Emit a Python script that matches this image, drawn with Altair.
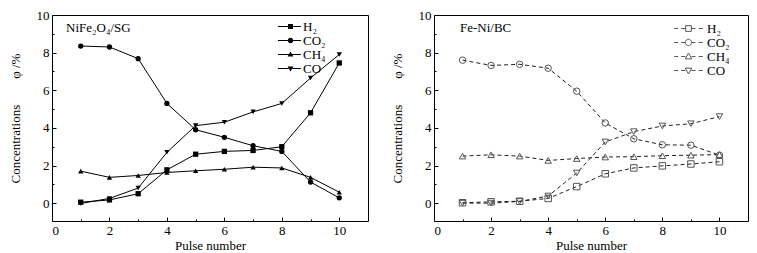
import altair as alt
import pandas as pd

pulse = list(range(1, 11))
series = ["H₂", "CO₂", "CH₄", "CO"]

# NiFe2O4/SG
a_h2 = [0.05, 0.17, 0.5, 1.77, 2.6, 2.75, 2.8, 3.0, 4.8, 7.45]
a_co2 = [8.35, 8.3, 7.68, 5.3, 3.9, 3.5, 3.05, 2.75, 1.12, 0.28]
a_ch4 = [1.7, 1.37, 1.47, 1.63, 1.72, 1.8, 1.91, 1.87, 1.37, 0.58]
a_co = [-0.02, 0.25, 0.8, 2.7, 4.12, 4.3, 4.85, 5.3, 6.65, 7.9]

# Fe-Ni/BC
b_h2 = [0.02, 0.07, 0.1, 0.25, 0.88, 1.56, 1.87, 1.98, 2.08, 2.2]
b_co2 = [7.6, 7.32, 7.38, 7.17, 5.95, 4.26, 3.42, 3.1, 3.08, 2.55]
b_ch4 = [2.5, 2.57, 2.5, 2.27, 2.37, 2.45, 2.47, 2.52, 2.55, 2.58]
b_co = [0.0, 0.0, 0.09, 0.38, 1.6, 3.25, 3.8, 4.1, 4.22, 4.6]

x_major = [0, 2, 4, 6, 8, 10]
x_minor = [1, 3, 5, 7, 9]
y_major = [0, 2, 4, 6, 8, 10]
y_minor = [1, 3, 5, 7, 9]

FONT = "Liberation Serif"
NB = "\u00a0"
YTITLE = "Concentrations" + NB * 8 + "φ /%"


def long_df(vals):
    rows = []
    for s, v in zip(series, vals):
        for p, y in zip(pulse, v):
            rows.append({"series": s, "pulse": p, "value": y})
    return pd.DataFrame(rows)


shapes = ["square", "circle", "triangle-up", "triangle-down"]
marks_geo = [
    "M-0.9,-0.9H0.9V0.9H-0.9Z",
    "M1,0A1,1,0,1,1,-1,0A1,1,0,1,1,1,0Z",
    "M0,-1.1L1.05,0.75H-1.05Z",
    "M0,1.1L1.05,-0.75H-1.05Z",
]
# filled legend: line segments drawn as thin filled bars
solid_seg = "M-4.6,-0.17H-0.5V0.17H-4.6ZM0.5,-0.17H3.8V0.17H0.5Z"
dash_seg = "M-4.5,0H-3.3M-2.3,0H-1M1,0H2.2M3.2,0H4.5"

AX = dict(labelFont=FONT, titleFont=FONT, labelFontSize=13, titleFontSize=13,
          titleFontWeight="normal", labelColor="black", titleColor="black",
          tickColor="black", domain=False, grid=False)


def panel(vals, title, filled, marker_color, line_color, dash, msize,
          leg_x, leg_y, lab_off, sym_size, text_x, width, seg):
    df = long_df(vals)
    xs = alt.Scale(domain=[0, 11], nice=False, zero=False)
    ys = alt.Scale(domain=[-0.95, 10], nice=False, zero=False)
    ax_x = alt.Axis(values=x_major, orient="bottom", tickSize=4, offset=-4,
                    title="Pulse number", labelPadding=3, titlePadding=2, format="d", **AX)
    ax_y = alt.Axis(values=y_major, orient="left", tickSize=4, offset=-4,
                    title=YTITLE, labelPadding=3, titlePadding=14, format="d", **AX)
    ax_xm = alt.Axis(values=x_minor, orient="bottom", tickSize=2, offset=-2,
                     labels=False, title=None, **AX)
    ax_ym = alt.Axis(values=y_minor, orient="left", tickSize=2, offset=-2,
                     labels=False, title=None, **AX)

    line_kw = dict(color=line_color, strokeWidth=1)
    if dash:
        line_kw["strokeDash"] = dash
    lines = alt.Chart(df).mark_line(**line_kw).encode(
        x=alt.X("pulse:Q", scale=xs, axis=ax_x),
        y=alt.Y("value:Q", scale=ys, axis=ax_y),
        detail="series:N",
    )
    pts = alt.Chart(df).mark_point(filled=filled, color=marker_color, size=msize,
                                   strokeWidth=1, opacity=1).encode(
        x=alt.X("pulse:Q", scale=xs, axis=None),
        y=alt.Y("value:Q", scale=ys, axis=None),
        shape=alt.Shape("series:N", scale=alt.Scale(domain=series, range=shapes), legend=None),
    )
    leg = alt.Chart(df).mark_point(filled=filled, color=marker_color, opacity=0).encode(
        x=alt.X("pulse:Q", scale=xs, axis=ax_xm),
        y=alt.Y("value:Q", scale=ys, axis=ax_ym),
        shape=alt.Shape(
            "series:N",
            scale=alt.Scale(domain=series, range=[g + seg for g in marks_geo]),
            legend=alt.Legend(
                orient="none", legendX=leg_x, legendY=leg_y, title=None,
                symbolSize=sym_size, symbolOpacity=1,
                symbolFillColor=marker_color if filled else "transparent",
                symbolStrokeColor=marker_color, symbolStrokeWidth=1,
                labelFont=FONT, labelFontSize=13, labelColor="black",
                labelOffset=lab_off, rowPadding=-1.5, padding=0,
            ),
        ),
    )
    txt = alt.Chart(pd.DataFrame({"t": [title]})).mark_text(
        font=FONT, fontSize=13, align="left", baseline="middle", color="black"
    ).encode(x=alt.value(text_x), y=alt.value(13), text="t:N")

    return alt.layer(lines, pts, leg, txt).resolve_scale(
        shape="independent"
    ).resolve_axis(x="independent", y="independent").properties(width=width, height=206)


left = panel([a_h2, a_co2, a_ch4, a_co], "NiFe₂O₄/SG", True, "black", "black", None, 28,
             232, 5, 6, 30, 14, 316, solid_seg)
right = panel([b_h2, b_co2, b_ch4, b_co], "Fe-Ni/BC", False, "#555555", "#222222", [4, 3], 42,
              248, 7, 12, 40, 26, 314, dash_seg)

chart = alt.hconcat(left, right, spacing=21).properties(
    padding=0, background="white"
).configure_view(stroke="black", strokeWidth=1)

chart.save("out.html", embed_options={"renderer": "svg", "actions": False})
